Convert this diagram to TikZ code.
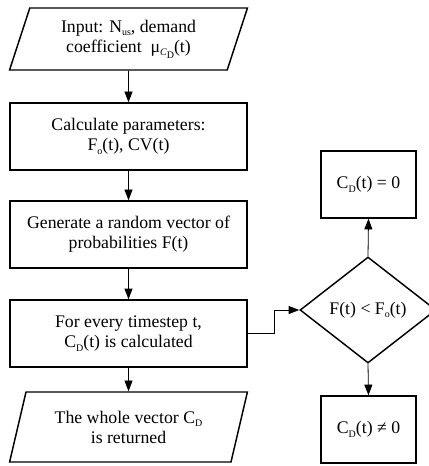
\documentclass[tikz,border=0pt]{standalone}
\usepackage{fontspec}
\setmainfont{Liberation Serif}
\usetikzlibrary{shapes.geometric,arrows.meta}

\newcommand{\lsub}[1]{\raisebox{-0.45ex}{\fontsize{7.5}{7.5}\selectfont #1}}

\begin{document}
\begin{tikzpicture}[x=0.75pt, y=-0.75pt,
  every node/.style={font=\fontsize{13.3}{15}\selectfont, align=center, inner sep=0pt},
  proc/.style={draw, line width=1.1pt, minimum width=177.75pt, minimum height=50.25pt},
  io/.style={draw, line width=1.1pt, trapezium, trapezium left angle=70,
    trapezium right angle=110, trapezium stretches=true, minimum width=178.5pt},
  test/.style={draw, line width=1.1pt, diamond, minimum width=102pt, minimum height=79.5pt},
  result/.style={draw, line width=1.1pt, minimum width=71.25pt, minimum height=50.25pt},
  arr/.style={-{Triangle[length=8pt,width=6pt]}, line width=0.6pt}]
  \useasboundingbox (0,0) rectangle (428,466);

  % Main column
  \node[io, minimum height=46.5pt] (input) at (128.5, 39)
    {Input: N\lsub{us}, demand\\coefficient\ \ μ\lsub{\textit{C}\lsub{D}}(t)};
  \foreach \name/\y/\txt in {calc/136.5/{Calculate parameters:\\F\lsub{o}(t), CV(t)},
      gen/234.5/{Generate a random vector of\\probabilities F(t)},
      each/333.5/{For every timestep t,\\C\lsub{D}(t) is calculated}} {
    \node[proc] (\name) at (128.5, \y) {\txt};
  }
  \node[io, minimum height=52.5pt] (output) at (128.5, 427)
    {The whole vector C\lsub{D}\\is returned};

  \foreach \a/\b in {input/calc, calc/gen, gen/each, each/output} {
    \draw[arr] (\a.south) -- (\b.north);
  }

  % Decision
  \node[test] (check) at (368, 310) {F(t) < F\lsub{o}(t)};
  \node[result] (zero) at (368.5, 184.5) {C\lsub{D}(t) = 0};
  \node[result] (nonzero) at (368.5, 429.5) {C\lsub{D}(t) ≠ 0};

  \draw[arr] (each.east) -- ++(27,0) |- (check.west);
  \draw[arr] (check.north) -- (zero.south);
  \draw[arr] (check.south) -- (nonzero.north);
\end{tikzpicture}
\end{document}
